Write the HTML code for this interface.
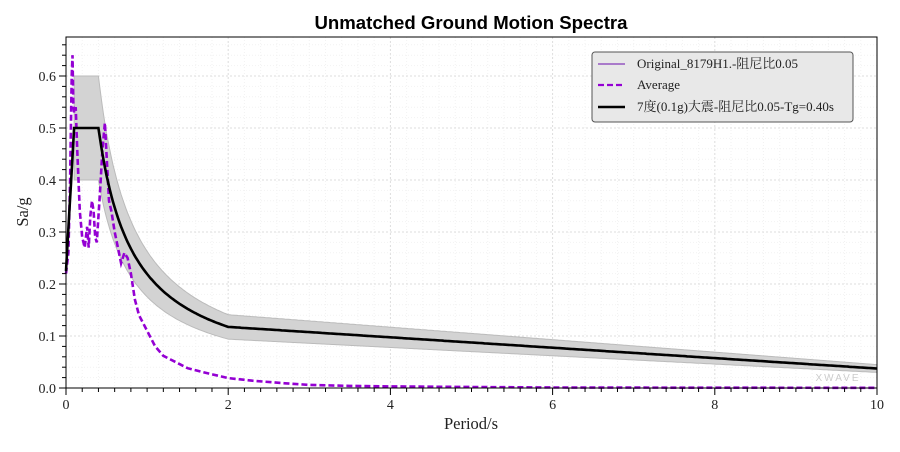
<!DOCTYPE html><html><head><meta charset="utf-8"><style>body{margin:0;background:#fff}svg text{font-family:"Liberation Serif","Noto Serif CJK SC",serif;fill:#222}</style></head><body>
<svg id="s" width="900" height="447" xmlns="http://www.w3.org/2000/svg">
<rect width="900" height="447" fill="#fff"/>
<text x="471" y="29" text-anchor="middle" style="font-family:'Liberation Sans',sans-serif;font-weight:bold;font-size:18.6px;fill:#000">Unmatched Ground Motion Spectra</text>
<g id="grid"></g>
<path id="band" fill="#d3d3d3" stroke="#bbb" stroke-width="1"/>
<path id="avg" fill="none" stroke="#9400d3" stroke-width="2.6" stroke-dasharray="6,3"/>
<path id="des" fill="none" stroke="#000" stroke-width="2.6"/>
<text x="838" y="381" text-anchor="middle" style="font-size:10px;fill:#ccc;letter-spacing:2px;font-family:'Liberation Sans',sans-serif">XWAVE</text>
<rect x="66" y="37" width="811" height="351" fill="none" stroke="#000" stroke-width="1"/>
<g id="ticks"></g>
<text x="471" y="429" text-anchor="middle" font-size="16.5">Period/s</text>
<text transform="translate(28,212) rotate(-90)" text-anchor="middle" font-size="16.5">Sa/g</text>
<rect x="592" y="52" width="261" height="70" rx="3" fill="#e8e8e8" stroke="#555"/>
<line x1="598" y1="64" x2="625" y2="64" stroke="#6a0dad" stroke-width="1"/>
<text x="637" y="68" font-size="13">Original_8179H1.-阻尼比0.05</text>
<line x1="598" y1="85" x2="625" y2="85" stroke="#9400d3" stroke-width="2.2" stroke-dasharray="6,3"/>
<text x="637" y="89" font-size="13">Average</text>
<line x1="598" y1="107" x2="625" y2="107" stroke="#000" stroke-width="2.6"/>
<text x="637" y="111" font-size="13">7度(0.1g)大震-阻尼比0.05-Tg=0.40s</text>
</svg>
<script>
var X=t=>66+t*81.1,Y=v=>388-v*520;
function d(t){if(t<0.1)return 0.225+(0.5-0.225)*t/0.1;if(t<=0.4)return 0.5;if(t<=2)return 0.5*Math.pow(0.4/t,0.9);return 0.5*(Math.pow(0.2,0.9)-0.02*(t-2));}
var ts=[];for(var t=0;t<=10.0001;t+=0.02)ts.push(+t.toFixed(3));
document.getElementById('des').setAttribute('d','M'+ts.map(t=>X(t).toFixed(1)+','+Y(d(t)).toFixed(1)).join('L'));
var up=[],lo=[];ts.filter(t=>t>=0.09).forEach(t=>{var u,l;if(t<=0.4){u=0.6;l=0.4}else{u=d(t)*1.2;l=d(t)*0.8}up.push(X(t).toFixed(1)+','+Y(u).toFixed(1));lo.unshift(X(t).toFixed(1)+','+Y(l).toFixed(1));});
document.getElementById('band').setAttribute('d','M'+up.join('L')+'L'+lo.join('L')+'Z');
var a=[[0,0.22],[0.03,0.26],[0.05,0.4],[0.07,0.6],[0.08,0.64],[0.09,0.55],[0.1,0.53],[0.12,0.54],[0.14,0.45],[0.17,0.34],[0.2,0.29],[0.23,0.27],[0.26,0.31],[0.28,0.27],[0.3,0.33],[0.32,0.36],[0.34,0.34],[0.36,0.29],[0.38,0.28],[0.42,0.38],[0.45,0.46],[0.48,0.51],[0.5,0.45],[0.53,0.36],[0.56,0.34],[0.6,0.3],[0.64,0.27],[0.68,0.24],[0.72,0.26],[0.76,0.25],[0.8,0.22],[0.85,0.17],[0.9,0.14],[1.0,0.11],[1.1,0.08],[1.2,0.062],[1.35,0.05],[1.5,0.038],[1.7,0.03],[2,0.019],[2.3,0.014],[2.7,0.009],[3,0.006],[3.5,0.004],[4,0.003],[5,0.002],[6,0.001],[8,0.0005],[10,0.0003]];
document.getElementById('avg').setAttribute('d','M'+a.map(p=>X(p[0]).toFixed(1)+','+Y(p[1]).toFixed(1)).join('L'));
var g='',k='';
for(var i=0;i<=50;i++){var x=X(i*0.2);g+=`<line x1="${x}" y1="37" x2="${x}" y2="388" stroke="${i%10?'#f2f2f2':'#ddd'}" stroke-dasharray="${i%10?'1,2':'2,2'}"/>`;
 k+=`<line x1="${x}" y1="388" x2="${x}" y2="${i%10?392:395}" stroke="#000"/>`;if(i%10==0)k+=`<text x="${x}" y="409" text-anchor="middle" font-size="14">${i/5}</text>`;}
for(var j=0;j<=33;j++){var y=Y(j*0.02);g+=`<line x1="66" y1="${y}" x2="877" y2="${y}" stroke="${j%5?'#f2f2f2':'#ddd'}" stroke-dasharray="${j%5?'1,2':'2,2'}"/>`;
 k+=`<line x1="${j%5?62:59}" y1="${y}" x2="66" y2="${y}" stroke="#000"/>`;if(j%5==0)k+=`<text x="56" y="${y+5}" text-anchor="end" font-size="14">${(j*0.02).toFixed(1)}</text>`;}
document.getElementById('grid').innerHTML=g;document.getElementById('ticks').innerHTML=k;
</script></body></html>
